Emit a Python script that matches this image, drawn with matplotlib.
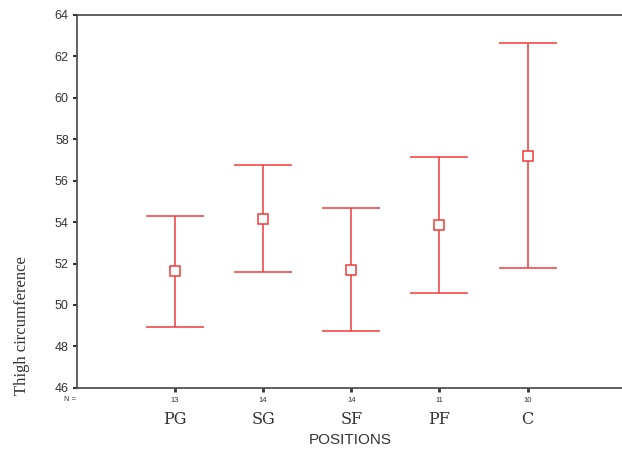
import matplotlib.pyplot as plt
import numpy as np

positions = ["PG", "SG", "SF", "PF", "C"]
counts = [13, 14, 14, 11, 10]
means = [51.65, 54.15, 51.7, 53.87, 57.2]
upper = [54.3, 56.76, 54.69, 57.15, 62.65]
lower = [48.94, 51.6, 48.75, 50.58, 51.79]

RED = "#f03c3c"

fig = plt.figure(figsize=(6.22, 4.51), dpi=100)
ax = fig.add_axes([0.124, 0.14, 0.876, 0.827])

x = np.arange(1, len(positions) + 1)
m = np.array(means)
err = [m - np.array(lower), np.array(upper) - m]
ax.errorbar(x, m, yerr=err, fmt="s", color=RED, ecolor=RED, elinewidth=1.1,
            capsize=21, capthick=1.1, markersize=6.5, markerfacecolor="white",
            markeredgecolor=RED, markeredgewidth=1.1)

ax.set_xlim(-0.11, 6.07)
ax.set_ylim(46, 64)
ax.set_yticks(np.arange(46, 65, 2))
ax.tick_params(axis="y", labelsize=9, length=3, width=1.5, colors="#333333",
               labelcolor="#333333", pad=3)
for lbl in ax.get_yticklabels():
    lbl.set_family("Liberation Sans")

ax.set_xticks(x)
ax.set_xticklabels([])
ax.tick_params(axis="x", length=3, width=2, colors="#333333")

ax.spines["right"].set_visible(False)
for s in ["left", "bottom", "top"]:
    ax.spines[s].set_color("#444444")
    ax.spines[s].set_linewidth(1.2)

trans = ax.get_xaxis_transform()
ax.text(-0.12, -0.032, "N =", transform=trans, ha="right", va="center",
        fontsize=5.5, family="Liberation Sans", color="#333333")
for xi, n, p in zip(x, counts, positions):
    ax.text(xi, -0.034, str(n), transform=trans, ha="center", va="center",
            fontsize=5.5, family="Liberation Sans", color="#333333")
    ax.text(xi, -0.084, p, transform=trans, ha="center", va="center",
            fontsize=11.5, family="DejaVu Serif", color="#333333")

ax.text(2.99, -0.14, "POSITIONS", transform=trans, ha="center", va="center",
        fontsize=11, family="Liberation Sans", color="#333333")
fig.text(0.036, 0.278, "Thigh circumference", rotation=90, ha="center",
         va="center", fontsize=12, family="Liberation Serif", color="#333333")

fig.savefig("out.png", dpi=100)
